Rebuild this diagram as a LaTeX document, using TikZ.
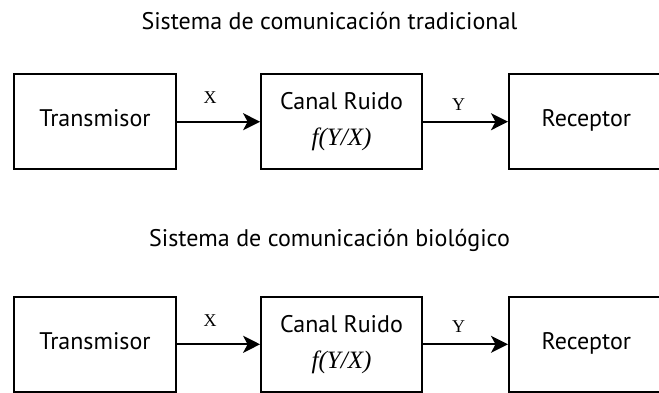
\documentclass[tikz,border=0pt]{standalone}
\usepackage{fontspec}
\setmainfont{PT Sans}
\newfontfamily\serifx{Liberation Serif}
\usetikzlibrary{arrows.meta}

\tikzset{
	bloque/.style={draw, line width=1.8pt, minimum height=95pt, inner sep=0pt, font=\fontsize{24}{29}\selectfont, align=center},
	una/.style={text height=17pt, text depth=6.5pt},
	flecha/.style={line width=1.8pt, -{Stealth[length=17pt, width=17pt, inset=4.5pt]}},
	etiq/.style={font=\serifx\fontsize{18}{18}\selectfont, anchor=base},
	titulo/.style={font=\fontsize{24}{29}\selectfont, anchor=base}
}

\begin{document}
\begin{tikzpicture}[x=1pt, y=-1pt]
		%%%%% START %%%%%
		\useasboundingbox (0, 0) rectangle (659, 392);
		
		% sistema tradicional
		\node[titulo] (tit1) at (329.5, 29) {Sistema de comunicación tradicional};
		
		\node[bloque, una, minimum width=162pt] (tx1) at (95, 121.7) {Transmisor};
		\node[bloque, minimum width=161pt] (can1) at (341.5, 121.7) {Canal Ruido\\[7pt]{\serifx\itshape\fontsize{25}{29}\selectfont f(Y/X)}};
		\node[bloque, una, anchor=west] (rx1) at (508, 121.7) {\makebox[155pt]{Receptor}\hspace*{25pt}};
		
		\draw[flecha] (tx1.east) -- node[etiq, pos=0.4, yshift=18.7pt] (x1) {X} (can1.west);
		\draw[flecha] (can1.east) -- node[etiq, pos=0.42, yshift=11pt] (y1) {Y} (rx1.west);
		
		% sistema biologico
		\node[titulo] (tit2) at (329.5, 246) {Sistema de comunicación biológico};
		
		\node[bloque, una, minimum width=162pt] (tx2) at (95, 344.3) {Transmisor};
		\node[bloque, minimum width=161pt] (can2) at (341.5, 344.3) {Canal Ruido\\[7pt]{\serifx\itshape\fontsize{25}{29}\selectfont f(Y/X)}};
		\node[bloque, una, anchor=west] (rx2) at (508, 344.3) {\makebox[155pt]{Receptor}\hspace*{25pt}};
		
		\draw[flecha] (tx2.east) -- node[etiq, pos=0.4, yshift=17.6pt] (x2) {X} (can2.west);
		\draw[flecha] (can2.east) -- node[etiq, pos=0.42, yshift=11.6pt] (y2) {Y} (rx2.west);
		
		%%%%% END %%%%%
\end{tikzpicture}
\end{document}
